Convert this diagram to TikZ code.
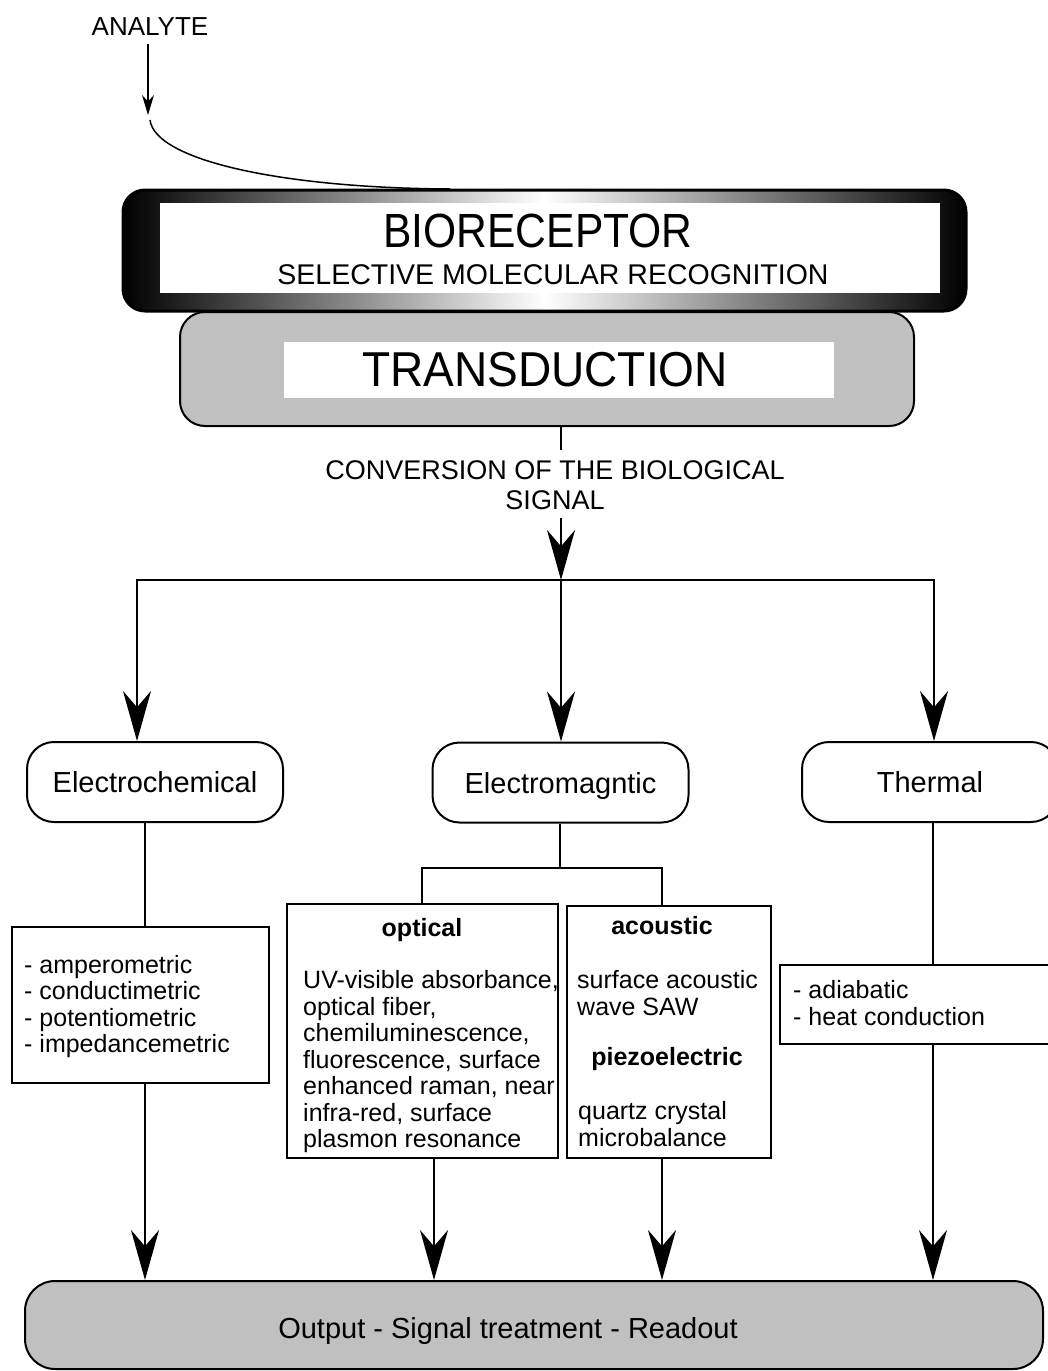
\documentclass[tikz,border=0pt]{standalone}
\usepackage{fontspec}
\setmainfont{Liberation Sans}
\usetikzlibrary{arrows.meta}
\definecolor{boxgray}{RGB}{192,192,192}
\newcommand{\myfs}[2]{\fontsize{#1pt}{#2pt}\selectfont}
\begin{document}
\begin{tikzpicture}[x=1pt,y=-1pt,
  conn/.style={line width=2pt},
  bigarrow/.style={conn,-{Stealth[length=50pt,width=28pt]}},
  rbox/.style={draw,line width=2pt,rounded corners=27pt,minimum width=256pt,minimum height=80pt,inner sep=0pt,text height=21pt,text depth=0pt,font=\myfs{29}{31}},
  lbox/.style={draw,line width=2pt,inner sep=0pt},
  ltext/.style={align=left,inner sep=0pt,anchor=west,font=\myfs{25}{26.5}},
  btitle/.style={inner sep=0pt,font=\bfseries\myfs{25}{26.5}}
]
\useasboundingbox (0,0) rectangle (1048,1371);

% analyte
\node[font=\myfs{26}{28}, inner sep=0pt] (analyte) at (150,27) {ANALYTE};
\coordinate (a1) at (148,115);
\draw[line width=1.5pt, shorten <=8pt, -{Stealth[length=20pt,width=12pt]}] (analyte.south -| a1) -- (a1);

% bioreceptor
\node[draw, line width=3pt, rounded corners=22pt, left color=black, right color=black, middle color=white,
      minimum width=843pt, minimum height=121pt, inner sep=0pt] (bioframe) at (544.5,250.5) {};
\node[fill=white, minimum width=780pt, minimum height=90pt, inner sep=0pt] (bioin) at (550,248) {};
\node[font=\myfs{48}{48}, inner sep=0pt] (biot) at (538,231) {\scalebox{0.887}[1]{BIORECEPTOR}};
\node[font=\myfs{28.5}{30}, inner sep=0pt] (bios) at (553,275) {SELECTIVE MOLECULAR RECOGNITION};

\coordinate (c1) at (150,120);
\coordinate (c2) at (450,189);
\draw[line width=1.5pt] (c1) .. controls (155,160) and (280,188) .. (c2);

% transduction
\node[draw, line width=2pt, fill=boxgray, rounded corners=25pt, minimum width=734pt, minimum height=114pt, inner sep=0pt] (trans) at (547,369) {};
\node[fill=white, minimum width=550pt, minimum height=56pt, inner sep=0pt] (transin) at (559,370) {};
\node[font=\myfs{49}{49}, inner sep=0pt] (transt) at (545,370) {\scalebox{0.94}[1]{TRANSDUCTION}};

\node[font=\myfs{27}{30}, align=center, inner sep=0pt] (conv) at (555,485) {CONVERSION OF THE BIOLOGICAL\\SIGNAL};

\coordinate (tx) at (561,450);
\draw[conn] (trans.south -| tx) -- (tx);
\coordinate (sx) at (561,518);
\coordinate (hub) at (561,580);
\coordinate (hl) at (137,580);
\coordinate (hr) at (934,580);

% category boxes
\node[rbox] (echem) at (155,782) {Electrochemical};
\node[rbox] (emag) at (560.5,782.5) {Electromagntic};
\node[rbox] (therm) at (930,782) {Thermal};

\draw[bigarrow] (sx) -- (hub);
\draw[bigarrow] (hub) -| (echem.north -| hl);
\draw[bigarrow] (hub) -| (therm.north -| hr);
\draw[bigarrow] (hub) -- (emag.north -| hub);

% output
\node[draw, line width=2pt, fill=boxgray, rounded corners=30pt, minimum width=1018pt, minimum height=88pt, inner sep=0pt] (out) at (534,1325) {};
\node[font=\myfs{29}{31}, inner sep=0pt, text height=21pt, text depth=0pt] (outt) at (508,1328) {Output - Signal treatment - Readout};

% electrochemical list
\node[lbox, minimum width=257pt, minimum height=156pt] (elist) at (140.5,1005) {};
\node[ltext] (elistt) at (24,1006.5) {- amperometric\\- conductimetric\\- potentiometric\\- impedancemetric};
\coordinate (ex) at (145,0);
\draw[conn] (echem.south -| ex) -- (elist.north -| ex);
\draw[bigarrow] (elist.south -| ex) -- (out.north -| ex);

% optical
\node[lbox, minimum width=271pt, minimum height=254pt] (opt) at (422.5,1031) {};
\node[btitle] (optt) at (422,930) {optical};
\node[ltext] (optl) at (303,1062) {UV-visible absorbance,\\optical fiber,\\chemiluminescence,\\fluorescence, surface\\enhanced raman, near\\infra-red, surface\\plasmon resonance};

% acoustic
\node[lbox, minimum width=204pt, minimum height=252pt] (acou) at (669,1032) {};
\node[btitle] (acout) at (662,926) {acoustic};
\node[ltext] (acoul1) at (577,993) {surface acoustic\\wave SAW};
\node[btitle] (piezo) at (667,1059) {piezoelectric};
\node[ltext] (acoul2) at (578,1124) {quartz crystal\\microbalance};

\coordinate (mj) at (560,868);
\coordinate (ox) at (422,0);
\coordinate (ax) at (662,0);
\coordinate (ox2) at (434,0);
\draw[conn] (emag.south -| mj) -- (mj);
\draw[conn] (opt.north -| ox) |- (mj) -| (acou.north -| ax);
\draw[bigarrow] (opt.south -| ox2) -- (out.north -| ox2);
\draw[bigarrow] (acou.south -| ax) -- (out.north -| ax);

% thermal list
\node[lbox, minimum width=280pt, minimum height=79pt] (tlist) at (920,1004.5) {};
\node[ltext] (tlistt) at (793,1003) {- adiabatic\\- heat conduction};
\coordinate (thx) at (933,0);
\draw[conn] (therm.south -| thx) -- (tlist.north -| thx);
\draw[bigarrow] (tlist.south -| thx) -- (out.north -| thx);
\end{tikzpicture}
\end{document}
